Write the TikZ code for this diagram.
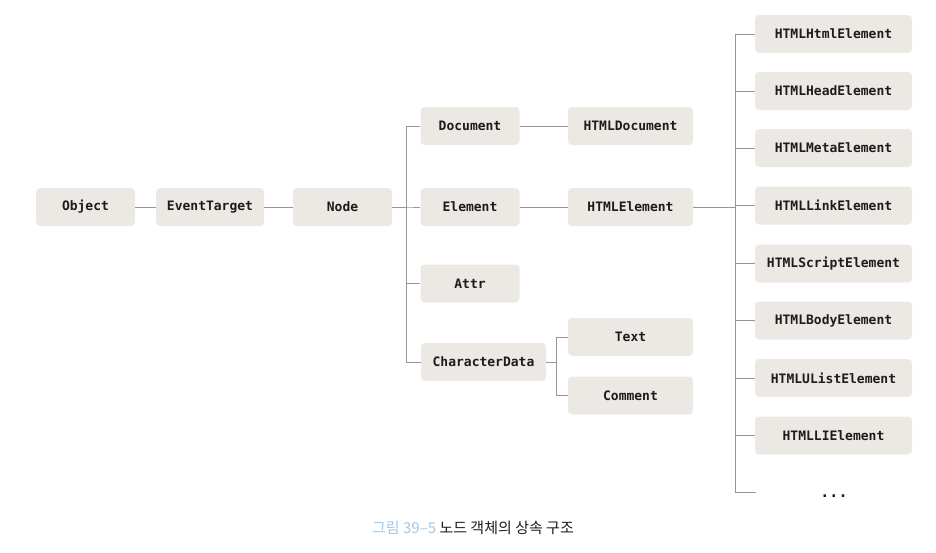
\documentclass[tikz,border=0pt]{standalone}
\usepackage{fontspec}
\setmonofont{DejaVu Sans Mono}
\newfontfamily\krfont{Noto Sans CJK KR}
\definecolor{boxfill}{HTML}{ECE9E5}
\definecolor{linecol}{HTML}{9E9197}
\definecolor{txtcol}{HTML}{1C1C1C}
\definecolor{capblue}{HTML}{A3C9EA}
\tikzset{
  cls/.style={fill=boxfill, rounded corners=4pt, minimum height=38pt, inner sep=0pt,
    text=txtcol, font=\ttfamily\bfseries\fontsize{13}{15}\selectfont},
  w99/.style={cls, minimum width=99pt},
  w108/.style={cls, minimum width=108pt},
  w125/.style={cls, minimum width=125pt},
  w157/.style={cls, minimum width=157pt},
  conn/.style={draw=linecol, line width=0.7pt}
}
\begin{document}
\begin{tikzpicture}[x=1pt,y=-1pt]
\useasboundingbox[fill=white] (0,0) rectangle (936,552);
\node[w99]  (object) at (85.5,207) {Object};
\node[w108] (evt)    at (210,207) {EventTarget};
\node[w99]  (node)   at (342.5,207) {Node};
\node[w99]  (doc)    at (470,126) {Document};
\node[w99]  (elem)   at (470,207) {Element};
\node[w99]  (attr)   at (470,283.5) {Attr};
\node[w125] (chard)  at (483.5,362) {CharacterData};
\node[w125] (hdoc)   at (630.5,126) {HTMLDocument};
\node[w125] (helem)  at (630.5,207) {HTMLElement};
\node[w125] (text)   at (630.5,337) {Text};
\node[w125] (comm)   at (630.5,395.5) {Comment};
\node[w157] (h1) at (833.5,34)  {HTMLHtmlElement};
\node[w157] (h2) at (833.5,91)  {HTMLHeadElement};
\node[w157] (h3) at (833.5,148) {HTMLMetaElement};
\node[w157] (h4) at (833.5,205.5) {HTMLLinkElement};
\node[w157] (h5) at (833.5,263.5) {HTMLScriptElement};
\node[w157] (h6) at (833.5,320.5) {HTMLBodyElement};
\node[w157] (h7) at (833.5,378) {HTMLUListElement};
\node[w157] (h8) at (833.5,435.5) {HTMLLIElement};
\node[text=txtcol, font=\ttfamily\bfseries\fontsize{15}{17}\selectfont] (dots) at (834,496) {...};
\coordinate (dotsend) at (756,492);

\draw[conn] (object.east) -- (evt.west);
\draw[conn] (evt.east) -- (node.west);
\foreach \c in {doc,elem,attr,chard}
  \draw[conn] (node.east) -- ++(14.5,0) |- (\c.west);
\draw[conn] (doc.east) -- (hdoc.west);
\draw[conn] (elem.east) -- (helem.west);
\foreach \c in {text,comm}
  \draw[conn] (chard.east) -- ++(10,0) |- (\c.west);
\foreach \c in {h1,h2,h3,h4,h5,h6,h7,h8}
  \draw[conn] (helem.east) -- ++(42,0) |- (\c.west);
\draw[conn] (helem.east) -- ++(42,0) |- (dotsend);

\node[font=\krfont\fontsize{15}{17}\selectfont, anchor=center] (cap) at (473,528)
  {\textcolor{capblue}{그림 39–5} \textcolor{txtcol}{노드 객체의 상속 구조}};
\end{tikzpicture}
\end{document}
